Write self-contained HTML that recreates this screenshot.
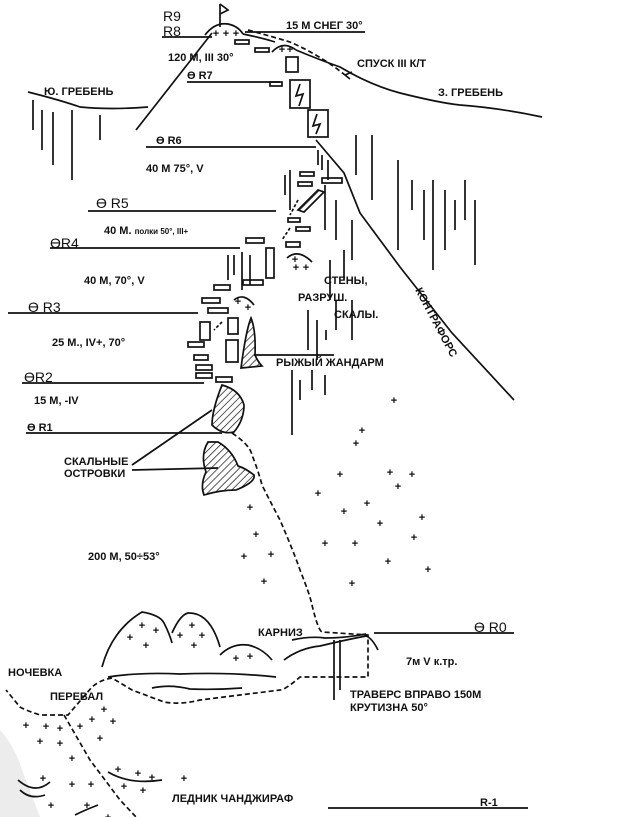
<!DOCTYPE html>
<html><head><meta charset="utf-8"><style>
html,body{margin:0;padding:0;background:#fff;}
svg{display:block;}
text{font-family:"Liberation Sans","DejaVu Sans",sans-serif;fill:#111;font-size:11px;font-weight:bold;}
.b{font-size:14px;font-weight:normal;}
</style></head><body>
<svg width="619" height="817" viewBox="0 0 619 817" xmlns="http://www.w3.org/2000/svg">
<defs>
<pattern id="h" width="5" height="5" patternUnits="userSpaceOnUse" patternTransform="rotate(45)">
<line x1="0" y1="0" x2="0" y2="5" stroke="#111" stroke-width="1.4"/></pattern>
</defs>
<rect width="619" height="817" fill="#fff"/>
<path d="M0,730 Q14,745 22,770 L40,817 L0,817 Z" fill="#ececec"/>
<g fill="none" stroke="#111" stroke-width="1.7">
<line x1="220" y1="27" x2="220" y2="4"/><path d="M220,4 L228,10 L220,14"/>
<path d="M205,35 Q215,22 228,24 Q238,26 243,34"/>
<line x1="162" y1="37" x2="212" y2="37"/>
<line x1="245" y1="32" x2="365" y2="32"/>
<path d="M272,52 Q283,40 296,50"/>
<rect x="235" y="40" width="14" height="4"/><rect x="255" y="48" width="14" height="4"/><rect x="270" y="82" width="12" height="4"/>
<path d="M212,33 L136,130"/>
<path d="M28,92 Q60,100 80,107 Q110,110 148,107"/>
<path d="M243,34 Q262,38 275,42 M296,50 Q320,60 340,67 Q370,85 400,93 Q440,103 460,105 Q500,108 542,117"/>
<path d="M248,30 Q270,36 290,42 Q320,55 345,75" stroke-dasharray="5,3"/>
<path d="M345,75 L352,72 M345,75 L350,79" />
<line x1="187" y1="82" x2="280" y2="82"/>
<rect x="286" y="57" width="12" height="15"/><rect x="290" y="80" width="20" height="28"/><rect x="308" y="110" width="20" height="27"/>
<path d="M300,84 L296,96 L303,94 L299,106 M317,114 L313,126 L320,124 L316,134"/>
<line x1="146" y1="147" x2="316" y2="147"/>
<line x1="88" y1="211" x2="276" y2="211"/>
<line x1="50" y1="248" x2="240" y2="248"/>
<line x1="8" y1="313" x2="198" y2="313"/>
<line x1="22" y1="383" x2="204" y2="383"/>
<line x1="26" y1="433" x2="222" y2="433"/>
<path d="M316,140 L344,173 L360,213 L400,267 L452,333 L514,400"/>
<path d="M33,100 V130 M42,110 V150 M53,112 V165 M72,110 V180 M100,115 V140 M318,150 V165 M322,155 V170 M328,160 V180 M356,135 V175 M372,135 V200 M398,160 V250 M412,180 V210 M424,190 V240 M433,180 V270 M445,190 V250 M455,200 V230 M465,180 V220 M475,200 V265 M285,175 V195 M290,170 V210 M325,185 V230 M336,200 V240 M352,220 V260 M330,260 V300 M344,250 V280 M228,255 V280 M234,255 V275 M242,252 V290 M250,255 V285 M308,310 V350 M317,320 V360 M326,330 V340 M336,300 V330 M352,300 V340 M292,370 V435 M300,380 V400 M312,370 V390 M325,375 V395"/>
<rect x="300" y="172" width="14" height="4"/><rect x="322" y="178" width="20" height="5"/><rect x="298" y="182" width="14" height="4"/>
<path d="M298,210 L318,190 L324,192 L304,212 Z" fill="url(#h)"/>
<rect x="288" y="218" width="12" height="4"/><rect x="296" y="227" width="14" height="4"/><rect x="246" y="238" width="18" height="5"/><rect x="286" y="242" width="14" height="5"/>
<rect x="266" y="248" width="8" height="30"/><rect x="243" y="280" width="20" height="5"/><rect x="214" y="285" width="16" height="5"/>
<rect x="202" y="298" width="18" height="5"/><rect x="208" y="308" width="20" height="5"/>
<rect x="200" y="322" width="10" height="18"/><rect x="228" y="318" width="10" height="16"/><rect x="226" y="340" width="12" height="22"/>
<rect x="188" y="342" width="16" height="5"/><rect x="194" y="355" width="14" height="5"/><rect x="196" y="365" width="16" height="5"/><rect x="196" y="373" width="16" height="5"/><rect x="216" y="377" width="16" height="5"/>
<path d="M287,258 Q298,248 312,262 M234,300 Q244,292 254,305"/>
<path d="M241,368 Q246,330 251,318 Q256,330 255,355 Q258,362 262,366 Z" fill="url(#h)"/>
<line x1="254" y1="355" x2="334" y2="355"/>
<path d="M298,200 L290,215 M290,228 L282,240 M222,322 L214,330" stroke-dasharray="3,2"/>
<path d="M222,385 Q212,410 212,425 Q222,435 234,432 Q244,420 244,405 Q240,390 222,385 Z" fill="url(#h)"/>
<path d="M208,442 Q200,455 206,472 Q200,485 204,495 Q220,490 236,490 Q256,482 254,475 Q245,468 238,466 Q232,450 218,442 Z" fill="url(#h)"/>
<path d="M132,465 L212,410 M132,470 L218,468"/>
<path d="M232,433 Q250,445 252,455 Q258,470 262,485 Q272,505 280,520 Q295,555 300,570 Q310,595 312,605 Q318,630 322,632 L368,635 L368,677 L300,677 Q285,690 280,690 L200,700 Q180,705 164,702 L132,690 L112,678 Q100,680 92,687 L68,715 L40,715 Q25,710 20,707 L6,690" stroke-dasharray="5,3"/>
<path d="M64,715 L90,760 L120,800 L136,817" stroke-dasharray="5,3"/>
<path d="M102,667 Q112,630 142,612 Q160,615 164,623 Q170,635 172,643 M172,633 Q180,615 188,613 Q210,612 220,647 M220,655 Q232,643 248,645 Q262,648 272,660"/>
<path d="M108,677 Q140,672 180,674 Q230,672 276,677 M152,688 Q170,684 190,689 Q215,690 242,688"/>
<path d="M284,660 Q300,648 320,646 Q345,640 366,636 Q372,638 378,650 M292,640 Q310,636 325,638 Q345,638 366,634"/>
<line x1="374" y1="633" x2="514" y2="633"/>
<path d="M334,640 V700 M340,640 V690"/>
<line x1="328" y1="808" x2="528" y2="808"/>
<path d="M18,780 Q35,795 50,782 M75,815 Q85,810 98,805 M108,772 Q130,785 162,780 M20,790 Q30,800 45,795"/>
</g>
<g font-size="16" font-weight="normal" text-anchor="middle" fill="#111">
<text x="216" y="37">+</text><text x="226" y="37">+</text><text x="236" y="37">+</text>
<text x="282" y="53">+</text><text x="290" y="53">+</text>
<text x="295" y="263">+</text><text x="296" y="271">+</text><text x="306" y="271">+</text>
<text x="238" y="305">+</text><text x="248" y="311">+</text>
<text x="394" y="404">+</text>
<text x="362" y="434">+</text><text x="356" y="447">+</text><text x="340" y="478">+</text><text x="390" y="476">+</text><text x="412" y="478">+</text><text x="398" y="490">+</text>
<text x="318" y="497">+</text><text x="367" y="507">+</text><text x="344" y="515">+</text><text x="250" y="511">+</text><text x="422" y="521">+</text><text x="380" y="527">+</text>
<text x="256" y="538">+</text><text x="414" y="541">+</text><text x="325" y="547">+</text><text x="355" y="547">+</text>
<text x="244" y="560">+</text><text x="271" y="558">+</text><text x="388" y="565">+</text><text x="428" y="573">+</text>
<text x="264" y="585">+</text><text x="352" y="587">+</text>
<text x="142" y="629">+</text><text x="156" y="634">+</text><text x="130" y="641">+</text><text x="146" y="649">+</text>
<text x="192" y="629">+</text><text x="180" y="639">+</text><text x="202" y="639">+</text><text x="194" y="649">+</text>
<text x="236" y="662">+</text><text x="250" y="660">+</text>
<text x="104" y="713">+</text><text x="92" y="723">+</text><text x="113" y="725">+</text>
<text x="26" y="729">+</text><text x="46" y="730">+</text><text x="60" y="732">+</text><text x="80" y="730">+</text>
<text x="40" y="745">+</text><text x="60" y="747">+</text><text x="100" y="742">+</text><text x="72" y="762">+</text>
<text x="43" y="782">+</text><text x="72" y="788">+</text><text x="91" y="788">+</text><text x="124" y="790">+</text><text x="143" y="794">+</text>
<text x="118" y="773">+</text><text x="138" y="777">+</text><text x="152" y="781">+</text><text x="184" y="782">+</text>
<text x="51" y="809">+</text><text x="87" y="809">+</text><text x="108" y="821">+</text>
</g>
<text x="163" y="21" class="b">R9</text>
<text x="163" y="36" class="b">R8</text>
<text x="286" y="29" font-size="10">15 М СНЕГ 30°</text>
<text x="168" y="61" font-weight="normal" font-size="12">120 М, III 30°</text>
<text x="357" y="67">СПУСК III К/Т</text>
<text x="187" y="79" font-weight="normal" font-size="12">ϴ R7</text>
<text x="44" y="95">Ю. ГРЕБЕНЬ</text>
<text x="438" y="96">З. ГРЕБЕНЬ</text>
<text x="156" y="144" font-weight="normal" font-size="13">ϴ R6</text>
<text x="146" y="172" font-size="14" font-weight="normal">40 М 75°, V</text>
<text x="96" y="208" class="b">ϴ R5</text>
<text x="104" y="234" font-size="11">40 М. <tspan font-size="8">полки 50°, III+</tspan></text>
<text x="50" y="248" class="b">ϴR4</text>
<text x="84" y="284" font-size="14" font-weight="normal">40 М, 70°, V</text>
<text x="28" y="312" class="b">ϴ R3</text>
<text x="52" y="346" font-size="10">25 М., IV+, 70°</text>
<text x="24" y="382" class="b">ϴR2</text>
<text x="34" y="404" font-size="10">15 М, -IV</text>
<text x="27" y="431">ϴ R1</text>
<text x="324" y="284" font-size="10">СТЕНЫ,</text>
<text x="298" y="301" font-size="10">РАЗРУШ.</text>
<text x="334" y="318" font-size="10">СКАЛЫ.</text>
<text x="276" y="366" font-size="10">РЫЖЫЙ ЖАНДАРМ</text>
<text x="415" y="290" font-size="10" transform="rotate(62 415 290)">КОНТРАФОРС</text>
<text x="64" y="465" font-size="9">СКАЛЬНЫЕ</text>
<text x="64" y="477" font-size="9">ОСТРОВКИ</text>
<text x="88" y="560">200 М, 50÷53°</text>
<text x="474" y="632" class="b">ϴ R0</text>
<text x="258" y="636" font-size="10">КАРНИЗ</text>
<text x="406" y="665" font-size="10">7м V к.тр.</text>
<text x="8" y="676" font-size="10">НОЧЕВКА</text>
<text x="50" y="700" font-size="10">ПЕРЕВАЛ</text>
<text x="350" y="698" font-size="10">ТРАВЕРС ВПРАВО 150М</text>
<text x="350" y="711" font-size="10">КРУТИЗНА 50°</text>
<text x="172" y="802" font-size="10">ЛЕДНИК  ЧАНДЖИРАФ</text>
<text x="480" y="806" font-size="12">R-1</text>
</svg>
</body></html>
